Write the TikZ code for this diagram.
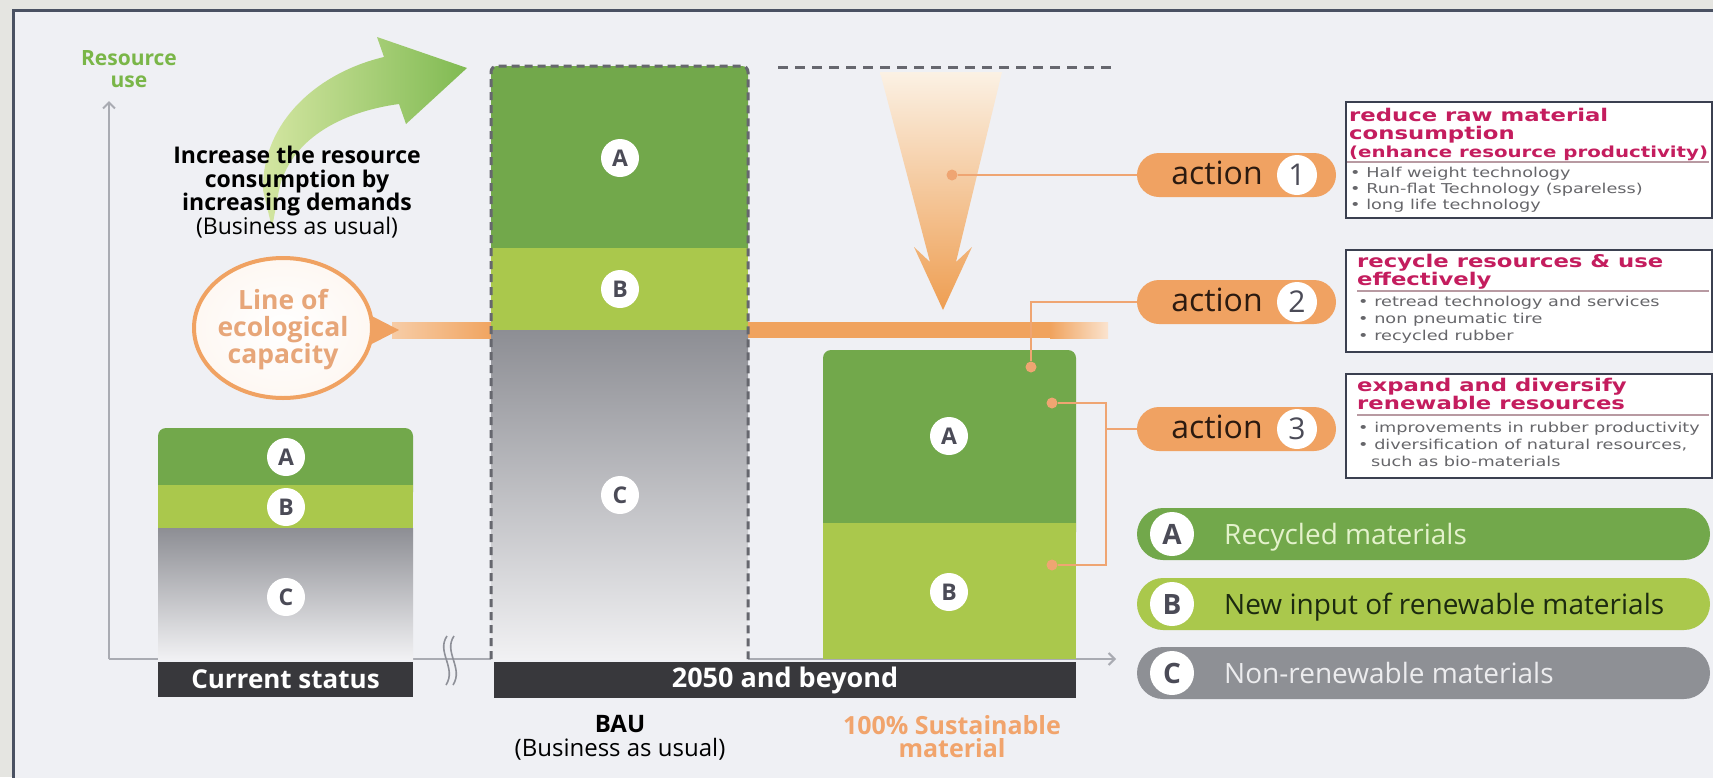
\documentclass[tikz,border=0pt]{standalone}
\usepackage{fontspec}
\setmainfont{Open Sans}
\newfontfamily\boxfont[FakeStretch=1.3]{DejaVu Sans}
\usetikzlibrary{shapes.geometric,arrows.meta}
\definecolor{outerbg}{HTML}{E5E5E1}
\definecolor{innerbg}{HTML}{EFF0F4}
\definecolor{framec}{HTML}{4A5162}
\definecolor{grA}{HTML}{72A84B}
\definecolor{grB}{HTML}{AAC84C}
\definecolor{grayTop}{HTML}{8D8E94}
\definecolor{grayBot}{HTML}{F1F1F3}
\definecolor{orng}{HTML}{F0A262}
\definecolor{orngline}{HTML}{F0A35E}
\definecolor{darkbar}{HTML}{38383C}
\definecolor{axisc}{HTML}{A9ABB2}
\definecolor{lettc}{HTML}{4B4B57}
\definecolor{boxtitle}{HTML}{C41D5E}
\definecolor{boxtext}{HTML}{66666A}
\definecolor{boxframe}{HTML}{3B4050}
\definecolor{boxrulec}{HTML}{B89AA2}
\definecolor{conn}{HTML}{EFA572}
\definecolor{dashc}{HTML}{66676E}
\definecolor{resgreen}{HTML}{7AB648}
\definecolor{ecotext}{HTML}{E7A679}
\definecolor{susttext}{HTML}{F1A46C}
\definecolor{acttc}{HTML}{2B1A10}
\definecolor{arrLight}{HTML}{D4E6A2}
\definecolor{arrDark}{HTML}{80BA52}
\definecolor{darrTop}{HTML}{FBF1E4}
\definecolor{darrBot}{HTML}{EE9E52}
\definecolor{legAtext}{HTML}{E4F2CC}
\definecolor{legBtext}{HTML}{1C2A10}
\definecolor{legCtext}{HTML}{ECECEE}
\definecolor{legC}{HTML}{8E9095}
\definecolor{breakc}{HTML}{8E9098}
\begin{document}
\begin{tikzpicture}[x=1pt,y=-1pt,
  barletter/.style={circle, fill=white, inner sep=0pt, minimum size=38pt, text=lettc, font=\bfseries\fontsize{23}{23}\selectfont},
  legletter/.style={circle, fill=white, inner sep=0pt, minimum size=44pt, text=lettc, font=\bfseries\fontsize{28}{28}\selectfont},
  legpill/.style={rectangle, rounded corners=26pt, minimum width=573pt, minimum height=52pt, inner sep=0pt},
  legtext/.style={anchor=base west, inner sep=0pt, font=\fontsize{28}{28}\selectfont},
  actpill/.style={rectangle, rounded corners=22pt, fill=orng, minimum width=199pt, minimum height=44pt, inner sep=0pt},
  acttext/.style={anchor=base, inner sep=0pt, text=acttc, font=\fontsize{32}{32}\selectfont},
  actnum/.style={circle, fill=white, inner sep=0pt, minimum size=40pt, text=lettc, font=\fontsize{30}{30}\selectfont},
  dotn/.style={circle, fill=conn, inner sep=0pt, minimum size=11pt},
  connline/.style={draw=conn, line width=2pt},
  descbox/.style={rectangle, draw=boxframe, line width=2pt, fill=white, anchor=north west, inner sep=0pt},
  boxttl/.style={anchor=base west, inner sep=0pt, text=boxtitle, font=\boxfont\bfseries\fontsize{17.5}{17.5}\selectfont},
  boxttlsm/.style={anchor=base west, inner sep=0pt, text=boxtitle, font=\boxfont\bfseries\fontsize{15.2}{15.2}\selectfont},
  boxbul/.style={anchor=base west, inner sep=0pt, text=boxtext, font=\boxfont\fontsize{13.6}{13.6}\selectfont},
  boxrule/.style={draw=boxrulec, line width=1.2pt},
  labelbar/.style={rectangle, fill=darkbar, inner sep=0pt, text=white, font=\bfseries\fontsize{26}{26}\selectfont},
  axisline/.style={draw=axisc, line width=2pt},
]
\useasboundingbox (0,0) rectangle (1713,777);
\clip (0,0) rectangle (1713,777);
\fill[outerbg] (0,0) rectangle (1713,777);
\draw[framec, line width=3pt, fill=innerbg] (13,10) rectangle (1740,800);

% axes
\coordinate (orig) at (109,659);
\coordinate (ytop) at (109,101);
\coordinate (xend) at (1116,659);
\draw[axisline, -{Straight Barb[length=6pt,width=12pt]}] (orig) -- (ytop);
\draw[axisline, -{Straight Barb[length=6pt,width=12pt]}] (orig) -- (xend);

% resource use label
\node[text=resgreen, font=\bfseries\fontsize{21}{22}\selectfont, align=center] (resuse) at (129,69) {Resource\\use};

% green curved arrow
\shade[left color=arrLight, right color=arrDark]
  (272,228) -- (263,190) .. controls (262,120) and (320,72) .. (384,57)
  -- (377,37) -- (467,68) -- (406,124) -- (399,104)
  .. controls (340,112) and (290,140) .. (279,190) -- cycle;

\node[font=\bfseries\fontsize{23}{23.5}\selectfont, align=center, text=black] (incr) at (297,192)
  {Increase the resource\\consumption by\\increasing demands\\{\mdseries (Business as usual)}};

% line of ecological capacity
\shade[left color=orngline!55!white, right color=orngline] (392,322) rectangle (495,338);
\fill[orngline] (748,322) rectangle (1050,338);
\shade[left color=orngline, right color=orngline!30!white] (1050,322) rectangle (1108,338);
\fill[orng] (362,311) -- (399,330) -- (362,349) -- cycle;
\node[ellipse, draw=orng, line width=4pt, inner color=white, outer color=orng!8!white, minimum width=178pt, minimum height=140pt] (eco) at (283,328) {};
\node[text=ecotext, font=\bfseries\fontsize{26.5}{27}\selectfont, align=center] (ecotxt) at (283,330) {Line of\\ecological\\capacity};

% BAU bar
\fill[grA, rounded corners=6pt] (491,262) -- (491,66) -- (748,66) -- (748,262) -- cycle;
\fill[grB] (491,248) rectangle (748,330);
\shade[top color=grayTop, bottom color=grayBot] (491,330) rectangle (748,659);
\draw[dashc, line width=3pt, dash pattern=on 8pt off 5pt, rounded corners=6pt] (491,659) -- (491,66) -- (748,66) -- (748,659);

% dashed top line
\draw[dashc, line width=3pt, dash pattern=on 10pt off 7pt] (778,67) -- (1116,67);

% down arrow
\shade[top color=darrTop, bottom color=darrBot]
  (880,72) -- (1002,72) -- (956,262) -- (972,247) -- (943,310) -- (914,247) -- (930,262) -- cycle;

% current status bar
\fill[grA, rounded corners=8pt] (158,500) -- (158,428) -- (413,428) -- (413,500) -- cycle;
\fill[grB] (158,485) rectangle (413,528);
\shade[top color=grayTop, bottom color=grayBot] (158,528) rectangle (413,659);

% sustainable bar
\fill[grA, rounded corners=8pt] (823,540) -- (823,350) -- (1076,350) -- (1076,540) -- cycle;
\fill[grB] (823,523) rectangle (1076,659);

% letters in bars
\node[barletter] (cA) at (286,457) {A};
\node[barletter] (cB) at (286,507) {B};
\node[barletter] (cC) at (286,597) {C};
\node[barletter] (bA) at (620,158) {A};
\node[barletter] (bB) at (620,289) {B};
\node[barletter] (bC) at (620,495) {C};
\node[barletter] (sA) at (949,436) {A};
\node[barletter] (sB) at (949,592) {B};

% action pills
\node[actpill] (act1) at (1236.5,175) {};
\node[acttext] (act1t) at (1217,184) {action};
\node[actnum] (act1n) at (1297,175) {1};
\node[actpill] (act2) at (1236.5,302) {};
\node[acttext] (act2t) at (1217,311) {action};
\node[actnum] (act2n) at (1297,302) {2};
\node[actpill] (act3) at (1236.5,429) {};
\node[acttext] (act3t) at (1217,438) {action};
\node[actnum] (act3n) at (1297,429) {3};

% connectors
\node[dotn] (d1) at (952,175) {};
\node[dotn] (d2) at (1031,367) {};
\node[dotn] (d3) at (1052,403) {};
\node[dotn] (d4) at (1052,565) {};
\coordinate (j3a) at (1106,403);
\coordinate (j3b) at (1106,565);
\coordinate (j3c) at (1106,429);
\draw[connline] (d1) -- (act1.west);
\draw[connline] (d2) |- (act2.west);
\draw[connline] (d3) -- (j3a) -- (j3b) -- (d4);
\draw[connline] (j3c) -- (act3.west);

% description boxes
\node[descbox, minimum width=366pt, minimum height=116pt] (box1) at (1345,101) {};
\node[boxttl] (b1l1) at (1349,121) {reduce raw material};
\node[boxttl] (b1l2) at (1349,139) {consumption};
\node[boxttlsm] (b1l3) at (1349,157) {(enhance resource productivity)};
\draw[boxrule] (1347,162) -- (1709,162);
\node[boxbul] (b1b1) at (1350,177) {• Half weight technology};
\node[boxbul] (b1b2) at (1350,193) {• Run-flat Technology (spareless)};
\node[boxbul] (b1b3) at (1350,209) {• long life technology};

\node[descbox, minimum width=366pt, minimum height=102pt] (box2) at (1345,249) {};
\node[boxttl] (b2l1) at (1357,267) {recycle resources \& use};
\node[boxttl] (b2l2) at (1357,285) {effectively};
\draw[boxrule] (1357,291) -- (1709,291);
\node[boxbul] (b2b1) at (1358,306) {• retread technology and services};
\node[boxbul] (b2b2) at (1358,323) {• non pneumatic tire};
\node[boxbul] (b2b3) at (1358,340) {• recycled rubber};

\node[descbox, minimum width=366pt, minimum height=104pt] (box3) at (1345,373) {};
\node[boxttl] (b3l1) at (1357,391) {expand and diversify};
\node[boxttl] (b3l2) at (1357,409) {renewable resources};
\draw[boxrule] (1357,415) -- (1709,415);
\node[boxbul] (b3b1) at (1358,432) {• improvements in rubber productivity};
\node[boxbul] (b3b2) at (1358,449) {• diversification of natural resources,};
\node[boxbul] (b3b3) at (1371,466) {such as bio-materials};

% legend
\node[legpill, fill=grA] (legA) at (1423.5,534) {};
\node[legletter] (legAc) at (1172,534) {A};
\node[legtext, text=legAtext] (legAt) at (1224,544) {Recycled materials};
\node[legpill, fill=grB] (legB) at (1423.5,604) {};
\node[legletter] (legBc) at (1172,604) {B};
\node[legtext, text=legBtext] (legBt) at (1224,614) {New input of renewable materials};
\node[legpill, fill=legC] (legCp) at (1423.5,673) {};
\node[legletter] (legCc) at (1172,673) {C};
\node[legtext, text=legCtext] (legCt) at (1224,683) {Non-renewable materials};

% label bars
\node[labelbar, minimum width=255pt, minimum height=35pt] (lbcur) at (285.5,679.5) {Current status};
\node[labelbar, minimum width=582pt, minimum height=36pt, font=\bfseries\fontsize{27}{27}\selectfont] (lb2050) at (785,680) {2050 and beyond};

% break mark
\draw[breakc, line width=1.6pt] (447,636) .. controls (436,652) and (457,668) .. (446,685);
\draw[breakc, line width=1.6pt] (454,636) .. controls (443,652) and (464,668) .. (453,685);

% bottom texts
\node[align=center, font=\fontsize{24}{24}\selectfont] (bau) at (620,738) {\textbf{BAU}\\(Business as usual)};
\node[align=center, text=susttext, font=\bfseries\fontsize{25}{23}\selectfont] (sust) at (952,737) {100\% Sustainable\\material};
\end{tikzpicture}
\end{document}
